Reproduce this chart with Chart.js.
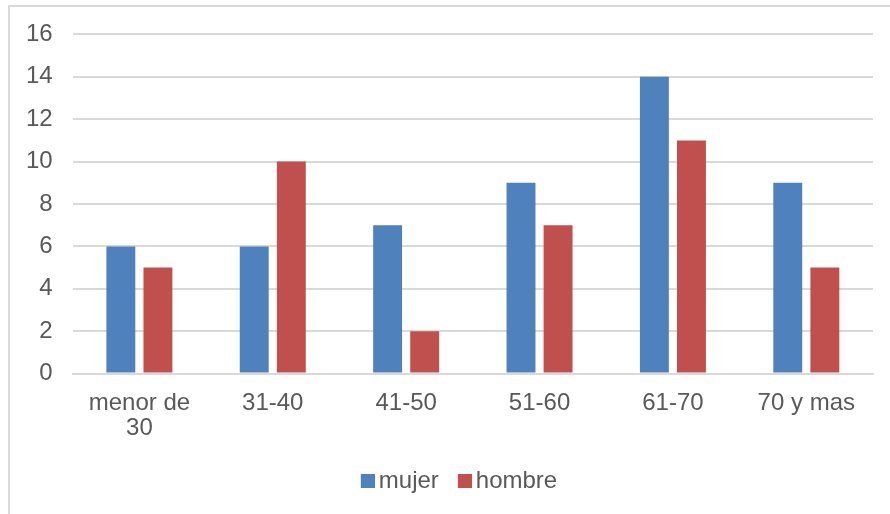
<!DOCTYPE html>
<html>
<head>
<meta charset="utf-8">
<script src="https://cdn.jsdelivr.net/npm/chart.js@4"></script>
<style>
	html, body { margin: 0; padding: 0; background: #fff; overflow: hidden; }
	#wrap { position: relative; width: 890px; height: 514px; }
	#frame { position: absolute; left: 8px; top: 5px; width: 900px; height: 530px; border: 2px solid #d9d9d9; box-sizing: border-box; }
	canvas { position: absolute; left: 0; top: 0; }
</style>
</head>
<body>
<div id="wrap">
	<div id="frame"></div>
	<canvas id="ageChart" width="890" height="514"></canvas>
</div>
<script>
// Data
const categories = [["menor de", "30"], "31-40", "41-50", "51-60", "61-70", "70 y mas"];
const mujer  = [6, 6, 7, 9, 14, 9];
const hombre = [5, 10, 2, 7, 11, 5];
const yTicks = [0, 2, 4, 6, 8, 10, 12, 14, 16];

const fontFamily = "'Liberation Sans', Arial, sans-serif";
const textColor = "#595959";
const colors = ["#4f81bd", "#c0504d"];

// legend square, drawn on the right side of a small canvas so it sits close to its text
function legendSquare(color){
	var c = document.createElement("canvas");
	c.width = 21; c.height = 14;
	var g = c.getContext("2d");
	g.fillStyle = color;
	g.fillRect(7, 0, 14, 14);
	return c;
}

// legend is centred on the frame, not on the canvas: nudge it right
const legendShift = {
	id: 'legendShift',
	afterLayout(chart){
		chart.legend.left += 20;
		chart.legend.right += 20;
	}
};

// Create Chart
function createChart(){
	var data = {labels: categories, datasets: [
		{label: "mujer",  data: mujer,  backgroundColor: colors[0], categoryPercentage: 0.556, barPercentage: 0.78},
		{label: "hombre", data: hombre, backgroundColor: colors[1], categoryPercentage: 0.556, barPercentage: 0.78}
	]};
	var config = {type: 'bar', data, plugins: [legendShift], options: {
		responsive: false,
		animation: false,
		layout: {padding: {left: 6, right: 17, top: 34, bottom: 11}},
		scales: {
			x: {
				grid: {display: false, drawTicks: false},
				border: {color: "#d9d9d9", width: 2},
				ticks: {color: textColor, font: {family: fontFamily, size: 24, lineHeight: 1.05}, padding: 17, maxRotation: 0, autoSkip: false},
				afterFit: axis => { axis.height -= 9; }
			},
			y: {
				min: 0, max: 16,
				afterBuildTicks: axis => { axis.ticks = yTicks.map(v => ({value: v})); },
				grid: {color: "#d9d9d9", lineWidth: 2, drawTicks: false},
				border: {display: false},
				ticks: {color: textColor, font: {family: fontFamily, size: 24}, padding: 20}
			}
		},
		plugins: {
			tooltip: {enabled: false},
			legend: {
				position: 'bottom',
				labels: {
					usePointStyle: true, pointStyleWidth: 5, boxHeight: 14, padding: 20,
					color: textColor, font: {family: fontFamily, size: 24},
					generateLabels: chart => Chart.defaults.plugins.legend.labels.generateLabels(chart).map((item, i) => {
						item.pointStyle = legendSquare(colors[i]);
						return item;
					})
				}
			}
		}
	}};
	new Chart(document.getElementById("ageChart"), config);
}

createChart();
</script>
</body>
</html>
